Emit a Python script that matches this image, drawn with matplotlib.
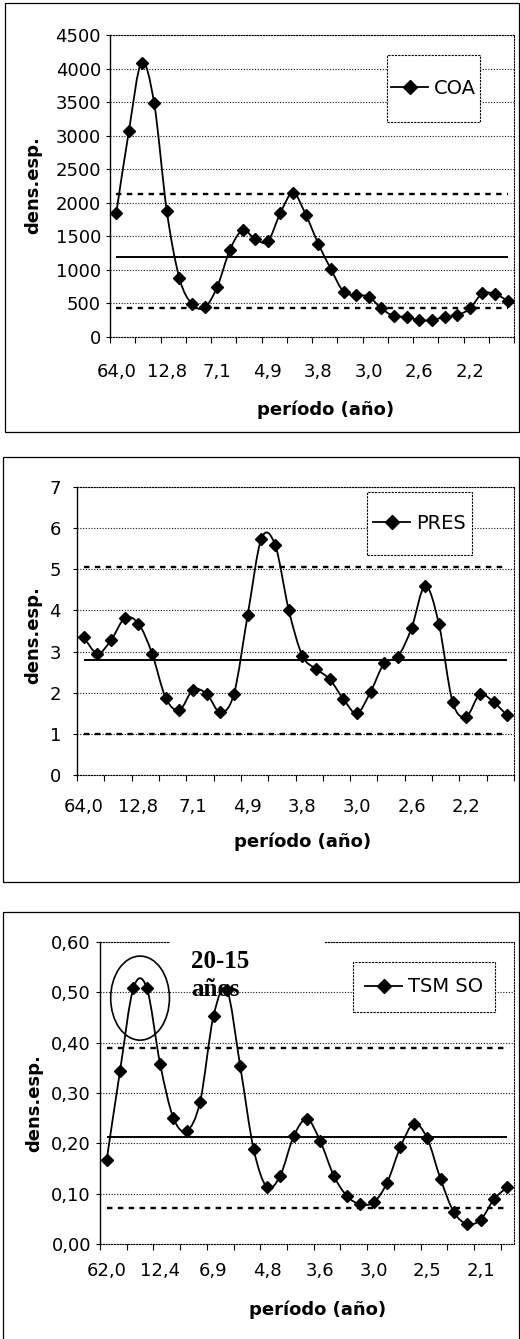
import matplotlib
matplotlib.use("Agg")
import matplotlib.pyplot as plt
from matplotlib.path import Path
from matplotlib.patches import PathPatch, Ellipse, Rectangle
from matplotlib.lines import Line2D
import numpy as np

plt.rcParams["font.family"] = ["DejaVu Sans"]

# ---------------- Data ----------------

coa_periods = ["64,0", "12,8", "7,1", "4,9", "3,8", "3,0", "2,6", "2,2"]
coa = [1850, 3075, 4090, 3480, 1875, 875, 490, 440, 750, 1300, 1590, 1460,
       1425, 1850, 2150, 1825, 1390, 1010, 675, 625, 600, 425, 310, 300,
       250, 250, 300, 325, 425, 650, 640, 540]
coa_mean = 1190
coa_upper = 2125
coa_lower = 425

pres_periods = ["64,0", "12,8", "7,1", "4,9", "3,8", "3,0", "2,6", "2,2"]
pres = [3.35, 2.95, 3.28, 3.81, 3.68, 2.95, 1.87, 1.58, 2.07, 1.97, 1.52,
        1.98, 3.89, 5.74, 5.6, 4.02, 2.9, 2.58, 2.33, 1.85, 1.5, 2.02, 2.72,
        2.88, 3.57, 4.6, 3.67, 1.78, 1.42, 1.96, 1.77, 1.45]
pres_mean = 2.8
pres_upper = 5.05
pres_lower = 1.0

tsm_periods = ["62,0", "12,4", "6,9", "4,8", "3,6", "3,0", "2,5", "2,1"]
tsm = [0.167, 0.344, 0.508, 0.509, 0.358, 0.25, 0.225, 0.283, 0.453, 0.505,
       0.353, 0.189, 0.113, 0.136, 0.214, 0.248, 0.204, 0.136, 0.095, 0.079,
       0.083, 0.122, 0.193, 0.239, 0.21, 0.129, 0.063, 0.04, 0.048, 0.089,
       0.113]
tsm_mean = 0.213
tsm_upper = 0.39
tsm_lower = 0.071

W, H = 520, 1339
fig = plt.figure(figsize=(W / 100, H / 100), dpi=100)


def px_axes(left, top, right, bottom):
    return fig.add_axes([left / W, 1 - bottom / H,
                         (right - left) / W, (bottom - top) / H])


def frame(left, top, right, bottom):
    fig.patches.append(Rectangle(
        (left / W, 1 - bottom / H), (right - left) / W, (bottom - top) / H,
        transform=fig.transFigure, fill=False, lw=0.9, ec="black"))


def smooth_path(x, y):
    # Excel-like smoothed line (Catmull-Rom as Bezier segments)
    pts = np.column_stack([x, y]).astype(float)
    n = len(pts)
    verts = [pts[0]]
    codes = [Path.MOVETO]
    for i in range(n - 1):
        p0 = pts[max(i - 1, 0)]
        p1 = pts[i]
        p2 = pts[i + 1]
        p3 = pts[min(i + 2, n - 1)]
        verts += [p1 + (p2 - p0) / 6, p2 - (p3 - p1) / 6, p2]
        codes += [Path.CURVE4] * 3
    return Path(verts, codes)


def draw_panel(box, values, periods, name, ymax, ystep, fmt,
               mean, upper, lower, xpad, ypad, legend_px, xlabel_px, ylabel_px):

    left, top, right, bottom = box
    ax = px_axes(left, top, right, bottom)

    n = len(values)
    x = np.arange(1, n + 1)

    ax.add_patch(PathPatch(smooth_path(x, values), fill=False,
                           lw=1.3, ec="black", zorder=3))
    ax.plot(x, values, ls="none", marker="D", ms=5.8,
            color="black", zorder=4)

    ax.hlines(mean, 1, n, colors="black", lw=1.4, zorder=2.8)
    ax.hlines([upper, lower], 1, n, colors="black", lw=1.7,
              linestyles=[(0, (2.3, 2.3))], zorder=2.8)

    ax.set_xlim(0.5, n + 0.5)
    ax.set_ylim(0, ymax)

    # ---------------- Ticks ----------------

    ax.set_xticks(x[::4])
    ax.set_xticklabels(periods)
    ax.set_xticks(np.arange(0.5, n + 1, 2), minor=True)
    ax.tick_params(axis="x", which="major", length=0, pad=xpad, labelsize=13)
    ax.tick_params(axis="x", which="minor", length=4, width=0.8,
                   direction="out")

    yt = np.arange(0, ymax + ystep / 2, ystep)
    ax.set_yticks(yt)
    ax.set_yticklabels([fmt(v) for v in yt])
    ax.tick_params(axis="y", length=3, width=0.8, pad=ypad, labelsize=13)

    ax.yaxis.grid(True, color="#111111", lw=0.8, ls=(0, (1, 1.5)))
    ax.set_axisbelow(True)

    for side in ["top", "right", "bottom"]:
        ax.spines[side].set_linestyle((0, (1, 1.5)))
        ax.spines[side].set_linewidth(0.8)
    ax.spines["left"].set_linewidth(1.0)

    # ---------------- Labels ----------------

    ax.set_xlabel("período (año)", fontsize=13, fontweight="bold")
    ax.xaxis.set_label_coords((xlabel_px[0] - left) / (right - left),
                              (bottom - xlabel_px[1]) / (bottom - top))
    ax.xaxis.label.set_va("center")

    ax.set_ylabel("dens.esp.", fontsize=13, fontweight="bold")
    ax.yaxis.set_label_coords((ylabel_px[0] - left) / (right - left),
                              (bottom - ylabel_px[1]) / (bottom - top))
    ax.yaxis.label.set_va("center")

    # ---------------- Legend ----------------

    lx0, ly0, lx1, ly1 = legend_px
    fx0 = (lx0 - left) / (right - left)
    fx1 = (lx1 - left) / (right - left)
    fy0 = (bottom - ly1) / (bottom - top)
    fy1 = (bottom - ly0) / (bottom - top)

    ax.add_patch(Rectangle((fx0, fy0), fx1 - fx0, fy1 - fy0,
                           transform=ax.transAxes, fc="white", ec="black",
                           lw=0.8, ls=(0, (2, 1)), zorder=5, clip_on=False))

    handle = Line2D([], [], color="black", lw=1.3, marker="D", ms=7)
    ax.legend([handle], [name], loc="center",
              bbox_to_anchor=((fx0 + fx1) / 2, (fy0 + fy1) / 2),
              frameon=False, fontsize=14, handlelength=1.9,
              handletextpad=0.3, borderpad=0, borderaxespad=0)

    return ax


def int_fmt(v):
    return str(int(round(v)))


def comma_fmt(v):
    return f"{v:.2f}".replace(".", ",")


# ---------------- Panel 1: COA ----------------

frame(5, 3, 519, 432)
draw_panel((110, 35, 514, 337), coa, coa_periods, "COA", 4500, 500, int_fmt,
           coa_mean, coa_upper, coa_lower, xpad=18.5, ypad=3.5,
           legend_px=(387, 55, 480, 122), xlabel_px=(326, 410),
           ylabel_px=(33, 185))

# ---------------- Panel 2: PRES ----------------

frame(3, 457, 519, 882)
draw_panel((77, 487, 514, 775), pres, pres_periods, "PRES", 7, 1, int_fmt,
           pres_mean, pres_upper, pres_lower, xpad=16.5, ypad=8.5,
           legend_px=(367, 492, 472, 555), xlabel_px=(303, 842),
           ylabel_px=(33, 635))

# ---------------- Panel 3: TSM SO ----------------

frame(3, 912, 519, 1350)
ax3 = draw_panel((100, 942, 514, 1244), tsm, tsm_periods, "TSM SO", 0.6, 0.1,
                 comma_fmt, tsm_mean, tsm_upper, tsm_lower, xpad=13,
                 ypad=3.5, legend_px=(353, 962, 495, 1012),
                 xlabel_px=(318, 1310), ylabel_px=(34, 1103))

# text box of the annotation hides part of the top border
ax3.add_patch(Rectangle((0.169, 0.98), 0.374, 0.04, transform=ax3.transAxes,
                        fc="white", ec="none", zorder=2.9, clip_on=False))

peak_x = (3 + 4) / 2
peak_y = (tsm[2] + tsm[3]) / 2
ax3.add_patch(Ellipse((peak_x, peak_y - 0.02), 4.4, 0.167, fill=False,
                      ec="black", lw=1.2, zorder=3.5))

ax3.text(7.3, 0.585, "20-15\naños", ha="left", va="top",
         family="Liberation Serif", fontweight="bold", fontsize=18,
         linespacing=1.3, zorder=3.2)

plt.savefig("out.png", dpi=100)
